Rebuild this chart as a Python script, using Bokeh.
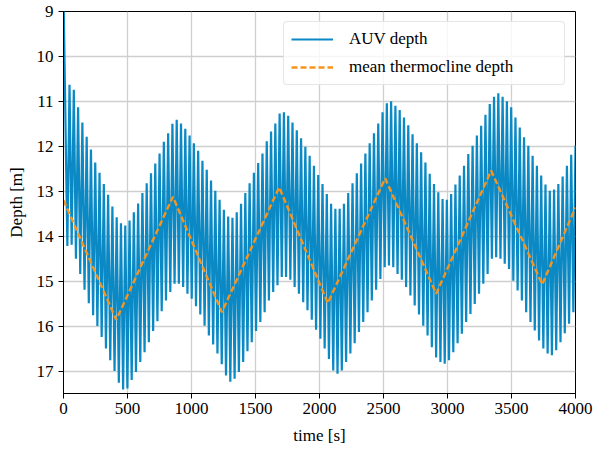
import numpy as np
from bokeh.plotting import figure
from bokeh.models import Range1d, Legend, LegendItem, FixedTicker
from bokeh.embed import file_html
from bokeh.resources import INLINE

# ---------------- data ----------------
x_ticks = [0, 500, 1000, 1500, 2000, 2500, 3000, 3500, 4000]
y_ticks = [9, 10, 11, 12, 13, 14, 15, 16, 17]

auv_start_time = 0.0
auv_start_depth = 8.6          # first point lies above the plotted range
auv_period = 33.5              # seconds between successive peaks
auv_first_peak_time = 47.0

# shallowest depth reached in each oscillation cycle
auv_peaks = [
    10.63, 10.74, 11.13, 11.47, 11.79, 12.07, 12.36, 12.59, 12.84, 13.08, 13.34, 13.58,
    13.71, 13.76, 13.65, 13.47, 13.27, 13.04, 12.82, 12.60, 12.38, 12.16, 11.90,
    11.71, 11.50, 11.41, 11.49, 11.61, 11.76, 11.93, 12.10, 12.32, 12.52, 12.76, 12.99,
    13.19, 13.41, 13.56, 13.59, 13.47, 13.28, 13.04, 12.82, 12.59, 12.37, 12.16,
    11.89, 11.67, 11.49, 11.27, 11.24, 11.32, 11.47, 11.64, 11.82, 12.01, 12.21, 12.43,
    12.64, 12.84, 13.06, 13.28, 13.39, 13.39, 13.28, 13.04, 12.82, 12.60, 12.38, 12.16,
    11.93, 11.71, 11.49, 11.24, 11.04, 11.00, 11.10, 11.19, 11.36, 11.53, 11.73, 11.93,
    12.13, 12.36, 12.61, 12.84, 13.02, 13.17, 13.19, 13.06, 12.85, 12.65, 12.43,
    12.17, 11.99, 11.76, 11.54, 11.30, 11.06, 10.90, 10.82, 10.90, 11.00, 11.13, 11.36,
    11.58, 11.80, 11.99, 12.21, 12.43, 12.65, 12.85, 12.99, 12.96, 12.84, 12.67, 12.43,
    12.19, 11.99,
]
# deepest depth reached in each oscillation cycle
auv_troughs = [
    14.22, 14.19, 14.50, 14.84, 15.19, 15.49, 15.76, 16.00, 16.24, 16.50, 16.76, 17.00,
    17.26, 17.41, 17.39, 17.20, 17.02, 16.80, 16.58, 16.36, 16.11, 15.89, 15.67,
    15.43, 15.24, 15.06, 15.06, 15.13, 15.28, 15.39, 15.56, 15.74, 15.99, 16.21, 16.41,
    16.61, 16.85, 17.10, 17.24, 17.17, 17.02, 16.80, 16.56, 16.36, 16.11, 15.91,
    15.69, 15.43, 15.24, 15.09, 14.91, 14.91, 14.97, 15.13, 15.28, 15.47, 15.65, 15.86,
    16.08, 16.28, 16.50, 16.73, 16.99, 17.06, 16.99, 16.80, 16.61, 16.38, 16.13, 15.91,
    15.69, 15.43, 15.19, 14.95, 14.69, 14.65, 14.69, 14.84, 14.97, 15.13, 15.32, 15.54,
    15.74, 15.99, 16.21, 16.47, 16.70, 16.80, 16.84, 16.76, 16.58, 16.38, 16.17,
    15.91, 15.73, 15.51, 15.28, 15.06, 14.84, 14.50, 14.47, 14.50, 14.61, 14.73, 14.99,
    15.21, 15.43, 15.69, 15.91, 16.10, 16.32, 16.50, 16.61, 16.65, 16.54, 16.36, 16.16,
    15.95, 15.69,
]

thermo_time = [0, 412, 855, 1237, 1685, 2065, 2513, 2912, 3341, 3740, 4000]
thermo_depth = [13.20, 15.86, 13.12, 15.69, 12.91, 15.49, 12.71, 15.28, 12.54, 15.07, 13.36]

# ---------------- build AUV series from extrema ----------------
n = len(auv_peaks)
peak_t = auv_first_peak_time + auv_period * np.arange(n)
trough_t = peak_t - auv_period / 2.0
auv_t = [auv_start_time]
auv_d = [auv_start_depth]
for k in range(n):
    auv_t += [trough_t[k], peak_t[k]]
    auv_d += [auv_troughs[k], auv_peaks[k]]

# ---------------- figure ----------------
FONT = "Liberation Serif"
BLUE = "#0a89c4"
ORANGE = "#f7941d"

p = figure(width=598, height=451, output_backend="svg", toolbar_location=None,
           x_range=Range1d(0, 4000), y_range=Range1d(17.5, 9),
           min_border_left=63, min_border_right=23, min_border_top=11, min_border_bottom=58)

p.background_fill_color = "white"
p.border_fill_color = "white"
p.outline_line_color = "black"
p.outline_line_width = 1
p.outline_line_alpha = 1

for ax in (p.xaxis[0], p.yaxis[0]):
    ax.axis_line_color = "black"
    ax.axis_line_width = 1
    ax.major_tick_line_color = "black"
    ax.major_tick_out = 5
    ax.major_tick_in = 0
    ax.minor_tick_line_color = None
    ax.major_label_text_font = FONT
    ax.major_label_text_font_size = "17px"
    ax.major_label_text_color = "black"
    ax.axis_label_text_font = FONT
    ax.axis_label_text_font_size = "17px"
    ax.axis_label_text_font_style = "normal"
    ax.axis_label_text_color = "black"

p.xaxis.major_label_standoff = 4
p.yaxis.major_label_standoff = 5
p.xaxis.ticker = FixedTicker(ticks=x_ticks)
p.yaxis.ticker = FixedTicker(ticks=y_ticks)
p.xaxis.axis_label = "time [s]"
p.yaxis.axis_label = "Depth [m]"
p.xaxis.axis_label_standoff = 9
p.yaxis.axis_label_standoff = 8

p.xgrid.grid_line_color = "#cfcfcf"
p.ygrid.grid_line_color = "#cfcfcf"
p.xgrid.grid_line_width = 1.3
p.ygrid.grid_line_width = 1.3

r_auv = p.line(auv_t, auv_d, line_color=BLUE, line_width=2.2)
r_th = p.line(thermo_time, thermo_depth, line_color=ORANGE, line_width=2.4, line_dash="6 3")

legend = Legend(items=[LegendItem(label="AUV depth", renderers=[r_auv]),
                       LegendItem(label="mean thermocline depth", renderers=[r_th])],
                location="top_right")
legend.label_text_font = FONT
legend.label_text_font_size = "17px"
legend.label_text_color = "black"
legend.label_width = 208
legend.glyph_width = 42
legend.glyph_height = 20
legend.label_height = 20
legend.label_standoff = 16
legend.spacing = 8
legend.padding = 7
legend.margin = 10
legend.border_line_color = "#cccccc"
legend.border_line_width = 1
legend.background_fill_color = "white"
legend.background_fill_alpha = 0.8
legend.border_radius = 4
p.add_layout(legend)

open("out.html", "w").write(file_html(p, INLINE))
